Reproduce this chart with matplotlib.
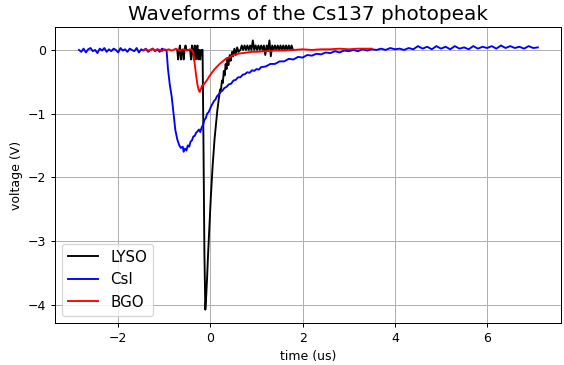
import matplotlib
matplotlib.use("Agg")
import matplotlib.pyplot as plt

# ---- LYSO (black) ----
lyso_t = [-0.72, -0.70, -0.68, -0.66, -0.64, -0.62, -0.60, -0.58, -0.56, -0.54,
          -0.52, -0.50, -0.48, -0.46, -0.44, -0.42, -0.40, -0.38, -0.36, -0.34,
          -0.32, -0.30, -0.28, -0.26, -0.24, -0.22, -0.20, -0.18, -0.17,
          -0.15, -0.13, -0.11, -0.09, -0.07, -0.05, -0.03, -0.01, 0.01, 0.03,
          0.05, 0.07, 0.09, 0.11, 0.13, 0.15, 0.18, 0.21, 0.23, 0.25, 0.27,
          0.29, 0.31, 0.33, 0.35, 0.37, 0.39, 0.42, 0.44, 0.47, 0.49, 0.52,
          0.55, 0.58, 0.61, 0.65,
          0.68, 0.71, 0.74, 0.77, 0.80, 0.83, 0.86, 0.89, 0.92, 0.95,
          0.98, 1.01, 1.04, 1.07, 1.10, 1.13, 1.16, 1.19, 1.22, 1.25,
          1.28, 1.31, 1.34, 1.37, 1.40, 1.43, 1.46, 1.49, 1.52, 1.55,
          1.58, 1.61, 1.64, 1.67, 1.70, 1.73, 1.76, 1.79]
lyso_v = [0.00, -0.15, 0.00, 0.07, -0.15, 0.00, 0.00, -0.15, 0.00, 0.07,
          0.00, 0.00, 0.00, 0.00, 0.00, -0.15, 0.07, 0.00, -0.15, 0.07,
          -0.15, 0.00, 0.07, -0.15, 0.00, -0.15, 0.00, 0.00, 0.00,
          -1.50, -3.20, -4.08, -3.85, -3.55, -3.20, -2.90, -2.60, -2.30, -2.05,
          -1.80, -1.60, -1.40, -1.25, -1.10, -0.95, -0.78, -0.62, -0.62, -0.48,
          -0.52, -0.33, -0.40, -0.22, -0.30, -0.14, -0.24, -0.08, -0.17, -0.03,
          -0.10, 0.02, -0.08, 0.04, -0.03, 0.00,
          0.07, 0.00, 0.07, 0.00, 0.07, 0.00, 0.07, 0.00, 0.15, 0.00,
          0.07, 0.00, 0.07, 0.00, 0.07, 0.00, 0.07, -0.08, 0.07, 0.00,
          0.15, -0.10, 0.07, 0.00, 0.07, 0.00, 0.07, 0.00, 0.07, 0.00,
          0.07, 0.00, 0.07, 0.00, 0.07, 0.00, 0.07, 0.00]

# ---- CsI (blue) ----
csi_t = [-2.85, -2.80, -2.75, -2.70, -2.65, -2.60, -2.55, -2.50, -2.45, -2.40,
         -2.35, -2.30, -2.25, -2.20, -2.15, -2.10, -2.05, -2.00, -1.95, -1.90,
         -1.85, -1.80, -1.75, -1.70, -1.65, -1.60, -1.55, -1.50, -1.45, -1.40,
         -1.35, -1.30, -1.25, -1.20, -1.15, -1.10, -1.05, -1.00, -0.95,
         -0.92, -0.88, -0.84, -0.80, -0.76, -0.72, -0.68, -0.64, -0.60, -0.58,
         -0.55, -0.52, -0.49, -0.46, -0.43, -0.40, -0.37, -0.34, -0.31, -0.28,
         -0.25, -0.22, -0.19, -0.16, -0.13, -0.10, -0.07, -0.04, -0.01, 0.02,
         0.05, 0.08, 0.11, 0.14, 0.18, 0.22, 0.26, 0.30, 0.35, 0.40,
         0.45, 0.50, 0.55, 0.60, 0.65, 0.70, 0.75, 0.80, 0.85, 0.90,
         0.95, 1.00, 1.05, 1.10, 1.20, 1.30, 1.40, 1.50, 1.60, 1.70,
         1.80, 1.90, 2.00, 2.10, 2.20, 2.30, 2.40, 2.50, 2.60, 2.70,
         2.80, 2.90, 3.00, 3.10, 3.20, 3.30, 3.40, 3.50, 3.60, 3.70,
         3.80, 3.90, 4.00, 4.10, 4.20, 4.30, 4.40, 4.50, 4.60, 4.70,
         4.80, 4.90, 5.00, 5.10, 5.20, 5.30, 5.40, 5.50, 5.60, 5.70,
         5.80, 5.90, 6.00, 6.10, 6.20, 6.30, 6.40, 6.50, 6.60, 6.70,
         6.80, 6.90, 7.00, 7.10]
csi_v = [0.00, -0.03, 0.02, -0.04, 0.01, 0.03, -0.02, 0.00, -0.05, 0.02,
         -0.01, 0.03, -0.03, 0.01, -0.02, 0.02, 0.00, -0.04, 0.03, -0.01,
         0.01, -0.03, 0.02, 0.00, -0.02, 0.03, -0.04, 0.01, -0.01, 0.02,
         -0.03, 0.00, 0.02, -0.02, 0.01, -0.03, 0.02, 0.00, -0.01,
         -0.30, -0.55, -0.73, -1.00, -1.26, -1.40, -1.49, -1.54, -1.52, -1.60,
         -1.55, -1.58, -1.50, -1.52, -1.44, -1.42, -1.36, -1.35, -1.30, -1.28,
         -1.25, -1.29, -1.22, -1.18, -1.10, -1.07, -1.00, -0.98, -0.93, -0.88,
         -0.84, -0.80, -0.78, -0.73, -0.70, -0.66, -0.64, -0.60, -0.58, -0.54,
         -0.53, -0.48, -0.47, -0.43, -0.43, -0.39, -0.38, -0.35, -0.36, -0.32,
         -0.33, -0.30, -0.31, -0.27, -0.26, -0.22, -0.22, -0.18, -0.18, -0.14,
         -0.15, -0.11, -0.12, -0.08, -0.09, -0.06, -0.07, -0.04, -0.05, -0.02,
         -0.04, -0.01, -0.02, 0.00, -0.02, 0.01, -0.01, 0.01, 0.00, 0.02,
         0.00, 0.03, 0.01, 0.02, 0.00, 0.03, 0.01, 0.06, 0.02, 0.05,
         0.01, 0.06, 0.02, 0.05, 0.01, 0.06, 0.02, 0.04, 0.01, 0.06,
         0.02, 0.05, 0.03, 0.06, 0.02, 0.07, 0.03, 0.06, 0.03, 0.05,
         0.02, 0.06, 0.03, 0.04]

# ---- BGO (red) ----
bgo_t = [-1.45, -1.40, -1.35, -1.30, -1.25, -1.20, -1.15, -1.10, -1.05, -1.00,
         -0.95, -0.90, -0.85, -0.80, -0.75, -0.70, -0.65, -0.60, -0.55, -0.50,
         -0.45, -0.40, -0.37, -0.34, -0.31, -0.28, -0.25, -0.23, -0.21, -0.18,
         -0.15, -0.12, -0.09, -0.06, -0.03, 0.00, 0.04, 0.08, 0.12, 0.16,
         0.20, 0.25, 0.30, 0.35, 0.40, 0.45, 0.50, 0.60, 0.70, 0.80,
         0.90, 1.00, 1.20, 1.40, 1.60, 1.80, 2.00, 2.20, 2.40, 2.60,
         2.80, 3.00, 3.20, 3.40, 3.50]
bgo_v = [0.00, 0.01, -0.01, 0.00, 0.02, -0.01, 0.01, 0.00, -0.02, 0.01,
         0.00, 0.01, -0.01, 0.00, 0.02, 0.00, -0.01, 0.01, 0.00, -0.01,
         0.01, 0.00, -0.05, -0.22, -0.40, -0.55, -0.64, -0.66, -0.62, -0.56,
         -0.55, -0.52, -0.49, -0.46, -0.42, -0.39, -0.35, -0.31, -0.28, -0.25,
         -0.22, -0.19, -0.16, -0.13, -0.12, -0.10, -0.08, -0.06, -0.05, -0.04,
         -0.03, -0.03, -0.02, -0.01, -0.01, 0.00, 0.01, 0.00, 0.01, 0.01,
         0.02, 0.01, 0.02, 0.02, 0.02]

DPI = 90
fig = plt.figure(figsize=(564 / DPI, 365 / DPI), dpi=DPI)
ax = fig.add_axes([0.0975, 0.115, 0.897, 0.811])
ax.plot(lyso_t, lyso_v, color="black", lw=1.5, label="LYSO")
ax.plot(csi_t, csi_v, color="blue", lw=1.5, label="CsI")
ax.plot(bgo_t, bgo_v, color="red", lw=1.5, label="BGO")
ax.set_xlim(-3.37, 7.6)
ax.set_ylim(-4.29, 0.36)
ax.grid(True)
ax.set_title("Waveforms of the Cs137 photopeak", fontsize=16)
ax.set_xlabel("time (us)")
ax.set_ylabel("voltage (V)")
ax.legend(loc="lower left", fontsize=12)
fig.savefig("out.png", dpi=DPI)
